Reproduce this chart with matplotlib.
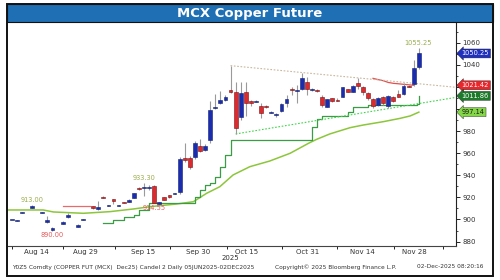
import matplotlib
matplotlib.use("Agg")
import matplotlib.pyplot as plt
from matplotlib.patches import Rectangle
from matplotlib.ticker import FixedLocator, NullFormatter
import numpy as np

nan = np.nan

# Datos de las velas (indice = dia de operacion)
opens = [900.4, 898.9, 906.2, nan, 910.5, nan, 906.2, 897.5, 890.5, nan,
         896.0, 902.0, nan, 893.5, 900.1, nan, 912.2, 909.5, 920.5, 912.5,
         918.5, 912.5, 915.4, 916.0, 919.7, 928.4, 929.1, 929.1, 930.3, 914.4,
         920.0, 922.0, 923.5, 924.6, 955.4, 955.4, 956.3, 966.8, 962.9, 971.9,
         1000.9, 1005.5, 1008.1, 1017.2, 1015.1, 992.5, 1015.1, 1007.5, 1007.0, 1002.7,
         1002.4, 997.0, 995.0, 998.5, 1005.1, 1018.0, 1016.3, 1017.8, 1024.7, 1017.6,
         1017.4, 1011.2, 1002.1, 1009.6, 1008.3, 1011.2, 1017.8, 1015.7, 1023.2, 1020.2,
         1014.8, 1008.7, 1003.6, 1010.6, 1002.7, 1011.2, 1013.3, 1013.3, 1020.8, 1022.6,
         1038.4]
highs = [900.8, 899.3, 906.6, nan, 913.0, nan, 906.6, 903.0, 893.0, nan,
         898.5, 906.0, nan, 895.5, 900.5, nan, 912.6, 917.0, 921.0, 912.9,
         918.8, 912.9, 915.6, 918.5, 924.2, 929.8, 933.3, 931.0, 931.0, 915.8,
         920.5, 922.5, 924.2, 956.3, 968.9, 957.0, 971.0, 972.5, 968.0, 1007.5,
         1013.6, 1016.6, 1013.0, 1039.2, 1024.1, 1024.7, 1024.1, 1008.0, 1007.9, 1005.7,
         1003.5, 997.9, 996.7, 1005.7, 1012.7, 1019.6, 1021.7, 1032.3, 1029.3, 1019.0,
         1018.5, 1012.7, 1009.0, 1010.2, 1009.5, 1020.0, 1018.5, 1021.5, 1027.8, 1021.0,
         1015.5, 1009.5, 1010.5, 1011.5, 1012.5, 1012.0, 1017.2, 1023.2, 1021.5, 1044.3,
         1055.25]
lows = [900.0, 898.5, 905.8, nan, 910.0, nan, 905.8, 897.0, 890.0, nan,
        895.5, 901.5, nan, 893.0, 899.7, nan, 909.5, 908.5, 919.0, 912.1,
        914.0, 912.1, 914.8, 915.5, 919.2, 926.8, 921.3, 927.0, 914.55, 914.0,
        917.5, 919.5, 923.2, 923.0, 952.3, 945.4, 955.0, 961.0, 962.0, 969.0,
        1000.0, 1004.5, 1007.0, 1014.5, 977.4, 990.0, 993.7, 1003.0, 1006.5, 991.6,
        1000.5, 996.5, 992.5, 997.6, 1002.1, 1012.7, 1005.7, 1017.0, 1012.7, 1016.5,
        1015.0, 1002.1, 1001.5, 1006.5, 1007.0, 1010.5, 1015.0, 1015.0, 1017.8, 1012.7,
        1008.0, 1000.6, 1003.0, 1004.0, 1000.6, 1006.5, 1010.5, 1012.8, 1019.5, 1021.0,
        1036.0]
closes = [900.4, 898.9, 906.2, nan, 912.0, nan, 906.2, 899.5, 892.0, nan,
          898.0, 904.0, nan, 895.0, 900.1, nan, 910.0, 911.0, 919.5, 912.5,
          917.0, 912.5, 915.0, 918.0, 923.7, 928.0, 929.3, 929.2, 914.6, 915.4,
          918.0, 920.0, 923.9, 954.5, 953.8, 947.8, 969.5, 962.3, 966.8, 999.1,
          1002.0, 1008.5, 1011.2, 1015.7, 982.5, 1014.2, 1005.7, 1005.1, 1007.6, 996.7,
          1001.9, 997.5, 995.4, 1004.5, 1009.1, 1017.6, 1017.2, 1027.8, 1017.8, 1018.0,
          1017.0, 1003.6, 1008.7, 1007.2, 1007.9, 1019.6, 1015.7, 1020.8, 1020.8, 1015.7,
          1009.6, 1002.7, 1009.6, 1005.1, 1011.8, 1007.2, 1011.2, 1020.8, 1020.2, 1036.8,
          1050.25]

# Media movil (vertices)
ma_x = [-0.7, 6.2, 8.2, 14.1, 19.3, 23.9, 27.2, 32.4, 35.7, 38.3, 40.9, 43.5,
        46.8, 50.7, 54.7, 58.3, 59.9, 62.5, 66.5, 69.1, 73.0, 76.3, 78.3, 80.0]
ma_y = [908.6, 908.6, 906.8, 905.6, 907.1, 909.5, 911.6, 914.0, 916.1, 923.7, 929.7, 940.3,
        947.8, 952.9, 959.9, 968.9, 972.5, 977.4, 983.1, 985.5, 988.5, 991.5, 993.7, 997.14]

# Linea escalonada (stop verde)
step_x = [18, 20, 22, 24, 25, 27, 36, 37, 38, 39, 40, 41, 42, 43, 59, 60, 61, 66, 67, 70, 79.7, 80]
step_y = [897.1, 899.5, 902.0, 904.1, 908.6, 914.6, 920.6, 926.7, 931.2, 932.7, 938.8, 947.8,
          958.0, 972.3, 984.0, 991.0, 994.0, 997.0, 1001.5, 1003.3, 1004.5, 1011.86]

# Linea roja
red1_x = [10, 15.4]
red1_y = [912.2, 912.2]
red2_x = [71, 72, 73, 74, 75, 76, 77, 78, 79]
red2_y = [1027.7, 1026.6, 1025.6, 1024.0, 1023.2, 1022.8, 1022.3, 1021.9, 1021.42]

# Lineas de tendencia
res_x = [43, 87.3]
res_y = [1039.2, 1019.6]
sup_x = [44, 87.3]
sup_y = [977.4, 1010.5]

# Etiquetas de la derecha
tag_vals = [1050.25, 1021.42, 1011.86, 997.14]
tag_cols = ['#1f2fbf', '#e8262b', '#1d7a2a', '#84d848']
tag_txt = ['white', 'white', 'white', '#1a1a1a']

# Ejes
date_labels = ['Aug 14', 'Aug 29', 'Sep 15', 'Sep 30', 'Oct 15', 'Oct 31', 'Nov 14', 'Nov 28']
date_pos = [4.8, 14.4, 25.8, 36.6, 46.2, 58.2, 69.0, 79.2]
sep_pos = [0, 10.1, 20.3, 31.1, 42.3, 53.1, 63.9, 75.1, 84.7]
y_ticks = [880, 900, 920, 940, 960, 980, 1000, 1020, 1040, 1060]
# 1000 y 1020 quedan tapadas por las etiquetas de precio
y_labels = ['880', '900', '920', '940', '960', '980', '', '', '1040', '1060']

o = np.array(opens, dtype=float)
h = np.array(highs, dtype=float)
l = np.array(lows, dtype=float)
c = np.array(closes, dtype=float)
idx = np.arange(len(o))

fig = plt.figure(figsize=(5, 2.8), dpi=100)
ax = fig.add_axes([0.016, 0.1214, 0.896, 0.80])

blue = '#1a2db0'
red = '#dc2a2e'

# Lineas de indicadores
ax.plot(ma_x, ma_y, color='#8cc63a', lw=1.1, zorder=2)
ax.plot(step_x, step_y, color='#3b9c45', lw=0.9, drawstyle='steps-post', zorder=2)
ax.plot(red1_x, red1_y, color='#e86a6a', lw=0.9, zorder=2)
ax.plot(red2_x, red2_y, color='#e05050', lw=0.9, zorder=2)
ax.plot(res_x, res_y, color='#c9b79c', lw=0.8, ls=(0, (1.5, 1.5)), zorder=2)
ax.plot(sup_x, sup_y, color='#3fd64a', lw=0.8, ls=(0, (1.5, 1.5)), zorder=2)

# Velas
ok = ~np.isnan(o)
up = ok & (c >= o)
dn = ok & (c < o)
ax.vlines(idx[ok], l[ok], h[ok], color='#9a9a9a', lw=0.8, zorder=3)
body = np.maximum(np.abs(c - o), 0.9)
bottom = np.minimum(o, c) - np.where(np.abs(c - o) < 0.9, 0.45, 0)
ax.bar(idx[up], body[up], bottom=bottom[up], width=0.75, color=blue,
       edgecolor='#10206e', lw=0.4, zorder=4)
ax.bar(idx[dn], body[dn], bottom=bottom[dn], width=0.75, color=red,
       edgecolor='#7a1010', lw=0.4, zorder=4)

# Etiquetas de maximos y minimos
hi_col = '#9aae4c'
lo_col = '#e8595b'
ax.text(4, 913.0 + 1.5, '913.00', color=hi_col, fontsize=4.8, ha='center', va='bottom')
ax.text(8, 890.0 - 1.5, '890.00', color=lo_col, fontsize=4.8, ha='center', va='top')
ax.text(26, 933.3 + 1.5, '933.30', color=hi_col, fontsize=4.8, ha='center', va='bottom')
ax.text(28, 914.55 - 1.0, '914.55', color=lo_col, fontsize=4.8, ha='center', va='top')
ax.text(79.8, 1055.25 + 1.5, '1055.25', color=hi_col, fontsize=4.8, ha='center', va='bottom')

ax.set_xlim(-0.73, 87.3)
ax.set_ylim(876.0, 1078.7)

for s in ['top', 'left']:
    ax.spines[s].set_visible(False)
ax.spines['right'].set_color('#222222')
ax.spines['bottom'].set_color('#444444')
ax.spines['right'].set_linewidth(0.8)
ax.spines['bottom'].set_linewidth(0.8)

ax.yaxis.tick_right()
ax.set_yticks(y_ticks)
ax.set_yticklabels(y_labels)
ax.yaxis.set_minor_locator(FixedLocator(np.arange(870, 1080, 10)))
ax.tick_params(axis='y', which='major', length=3, width=0.6, pad=1.5, labelsize=5, labelcolor='#333333')
ax.tick_params(axis='y', which='minor', length=1.5, width=0.5)

ax.xaxis.set_major_locator(FixedLocator(sep_pos))
ax.xaxis.set_major_formatter(NullFormatter())
ax.xaxis.set_minor_locator(FixedLocator(date_pos))
ax.set_xticklabels(date_labels, minor=True)
ax.tick_params(axis='x', which='major', length=2.5, width=0.6)
ax.tick_params(axis='x', which='minor', length=0, pad=2, labelsize=5, labelcolor='#333333')

# Etiquetas de precio a la derecha
for v, col, tc in zip(tag_vals, tag_cols, tag_txt):
    ax.annotate(f'{v:.2f}', xy=(1.0, v), xycoords=('axes fraction', 'data'),
                xytext=(4, 0), textcoords='offset points', fontsize=4.8, color=tc,
                ha='left', va='center', annotation_clip=False,
                bbox=dict(boxstyle='larrow,pad=0.22', fc=col, ec='#222222', lw=0.3))

# Marco, barra de titulo y pie
fig.patches.append(Rectangle((7 / 500, 4 / 280), 486 / 500, 272 / 280, transform=fig.transFigure,
                             fill=False, ec='#111111', lw=1.4, zorder=10))
fig.patches.append(Rectangle((7 / 500, 1 - 22 / 280), 486 / 500, 18 / 280, transform=fig.transFigure,
                             fc='#1f6fb5', ec='#111111', lw=0.8, zorder=9))
fig.text(0.5, 1 - 13 / 280, 'MCX Copper Future', color='white', fontsize=9.5,
         fontweight='bold', ha='center', va='center', zorder=11)

fig.text(0.46, 1 - 258 / 280, '2025', fontsize=5, color='#333333', ha='center', va='center')
fig.text(0.024, 1 - 267 / 280, 'Y0Z5 Comdty (COPPER FUT (MCX)  Dec25) Candel 2 Daily 05JUN2025-02DEC2025',
         fontsize=4.2, color='#333333', ha='left', va='center')
fig.text(0.55, 1 - 267 / 280, 'Copyright\u00a9 2025 Bloomberg Finance L.P.',
         fontsize=4.2, color='#333333', ha='left', va='center')
fig.text(0.966, 1 - 267 / 280, '02-Dec-2025 08:20:16',
         fontsize=4.2, color='#333333', ha='right', va='center')

fig.savefig('out.png', dpi=100)
